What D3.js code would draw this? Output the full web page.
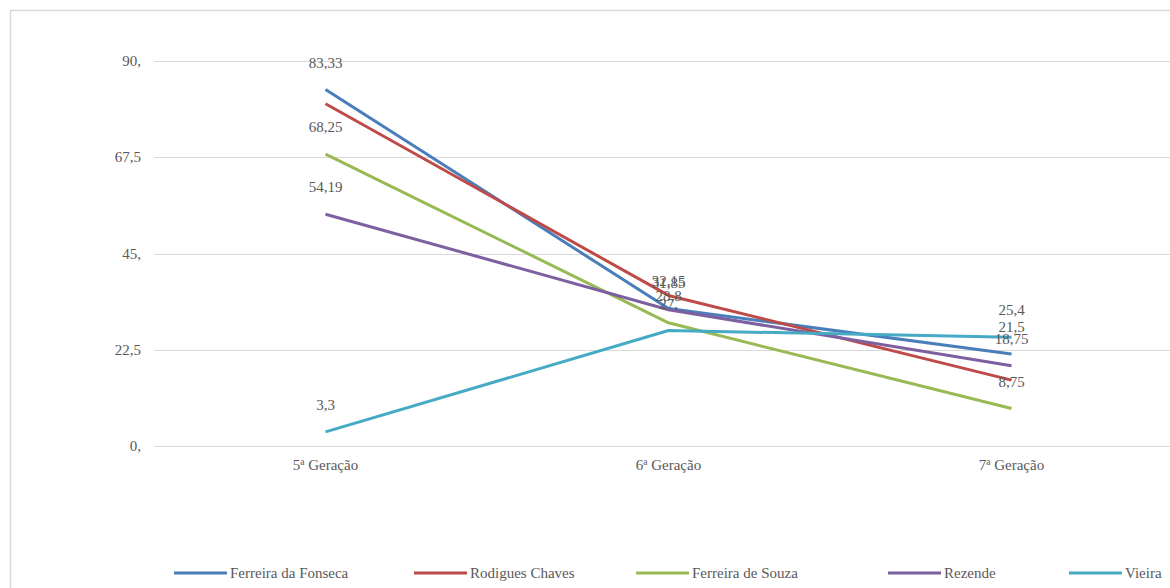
<!DOCTYPE html>
<head>
  <meta charset="utf-8">
  <script src="https://d3js.org/d3.v7.min.js"></script>
  <style>
    body { margin: 0; background: #fff; }
    svg { display: block; }
    .grid line { stroke: #d9d9d9; stroke-width: 1px; }
    text { font-family: "Liberation Serif", serif; font-size: 15px; fill: #595959; }
    .series { fill: none; stroke-width: 3px; stroke-linejoin: round; }
  </style>
</head>
<body>
  <script>
    var categories = ["5ª Geração", "6ª Geração", "7ª Geração"];
    var yTicks = [0, 22.5, 45, 67.5, 90];

    var seriesNames = ["Ferreira da Fonseca", "Rodigues Chaves", "Ferreira de Souza", "Rezende", "Vieira"];
    var seriesColors = ["#4a7ebb", "#be4b48", "#98b954", "#7d60a0", "#46aac5"];

    var fonsecaValues = [83.33, 32.15, 21.5];
    var chavesValues = [80, 35.2, 15.4];
    var souzaValues = [68.25, 28.8, 8.75];
    var rezendeValues = [54.19, 31.85, 18.75];
    var vieiraValues = [3.3, 27, 25.4];

    // which series carry data labels (Rodigues Chaves shows none)
    var showLabels = [true, false, true, true, true];

    var allValues = [fonsecaValues, chavesValues, souzaValues, rezendeValues, vieiraValues];

    var width = 1170, height = 588;

    var svg = d3.select("body").append("svg")
      .attr("width", width)
      .attr("height", height);

    // chart border
    svg.append("rect")
      .attr("x", 10.5)
      .attr("y", 10.5)
      .attr("width", width + 20)
      .attr("height", height + 20)
      .attr("fill", "#fff")
      .attr("stroke", "#d9d9d9")
      .attr("stroke-width", 1.5);

    var x = d3.scaleBand()
      .domain(categories)
      .range([154, 1183]);

    var y = d3.scaleLinear()
      .domain([0, 90])
      .range([446, 61]);

    function fmt(v) {
      if (Number.isInteger(v)) return v + ",";
      return String(v).replace(".", ",");
    }

    // gridlines
    svg.append("g")
      .attr("class", "grid")
      .selectAll("line")
      .data(yTicks)
      .enter().append("line")
        .attr("x1", 154)
        .attr("x2", 1183)
        .attr("y1", d => Math.round(y(d)) + 0.5)
        .attr("y2", d => Math.round(y(d)) + 0.5);

    // y axis labels
    svg.append("g")
      .selectAll("text")
      .data(yTicks)
      .enter().append("text")
        .attr("x", 141)
        .attr("y", d => y(d))
        .attr("text-anchor", "end")
        .attr("dominant-baseline", "central")
        .text(fmt);

    // x axis labels
    svg.append("g")
      .selectAll("text")
      .data(categories)
      .enter().append("text")
        .attr("x", d => x(d) + x.bandwidth() / 2)
        .attr("y", 465)
        .attr("text-anchor", "middle")
        .attr("dominant-baseline", "central")
        .text(d => d);

    var line = d3.line()
      .x((d, i) => x(categories[i]) + x.bandwidth() / 2)
      .y(d => y(d));

    svg.append("g")
      .selectAll("path")
      .data(allValues)
      .enter().append("path")
        .attr("class", "series")
        .attr("stroke", (d, i) => seriesColors[i])
        .attr("d", line);

    // data labels
    allValues.forEach(function(vals, s) {
      if (!showLabels[s]) return;
      svg.append("g")
        .selectAll("text")
        .data(vals)
        .enter().append("text")
          .attr("x", (d, i) => x(categories[i]) + x.bandwidth() / 2)
          .attr("y", d => y(d) - 27)
          .attr("text-anchor", "middle")
          .attr("dominant-baseline", "central")
          .text(fmt);
    });

    // legend
    var legendX = [174, 414, 636, 888, 1069];
    var legend = svg.append("g")
      .selectAll("g")
      .data(seriesNames)
      .enter().append("g")
        .attr("transform", (d, i) => "translate(" + legendX[i] + ",573)");
    legend.append("line")
      .attr("x1", 0)
      .attr("x2", 53)
      .attr("stroke", (d, i) => seriesColors[i])
      .attr("stroke-width", 3);
    legend.append("text")
      .attr("x", 56)
      .attr("dominant-baseline", "central")
      .text(d => d);
  </script>
</body>
